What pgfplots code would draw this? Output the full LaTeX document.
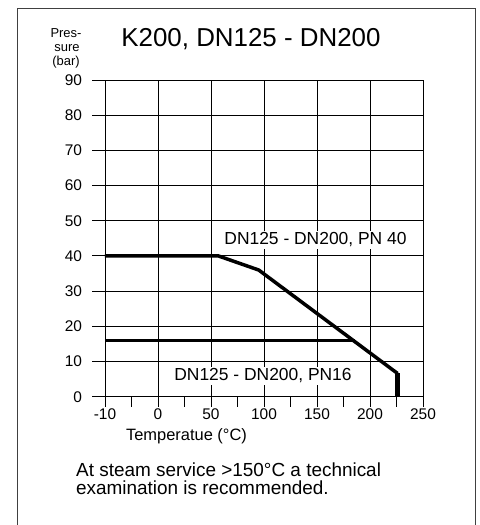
\documentclass[border=0pt]{standalone}
\usepackage{fontspec}
\setmainfont{Liberation Sans}
\usepackage{pgfplots}
\pgfplotsset{compat=1.18}
\begin{document}
\begin{tikzpicture}[x=1bp,y=1bp]
\path[use as bounding box] (0,0) rectangle (480,525);
\draw[black!75, line width=1bp] (17,0) -- (17,516) -- (475.5,516) -- (475.5,0);
\begin{axis}[
  at={(92bp,128.3bp)}, anchor=south west,
  scale only axis, width=331bp, height=316.7bp,
  x coord trafo/.code={\pgfmathparse{#1<0 ? (#1+10)/10 : 1+#1/50}},
  x coord inv trafo/.code={\pgfmathparse{#1<1 ? 10*#1-10 : 50*(#1-1)}},
  xmin=-12.45, xmax=250, ymin=0, ymax=90,
  axis x line=bottom, axis y line=left,
  x axis line style={-, black, line width=0.9bp},
  y axis line style={draw=none},
  xtick={-10,0,50,100,150,200,250},
  xticklabels={-10,0,50,100,150,200,250},
  minor xtick={-5,25,75,125,175,225},
  ytick={0,10,...,90},
  tick align=outside,
  major tick length=10bp, minor tick length=10bp,
  tick style={black, line width=0.9bp},
  ytick style={draw=none},
  grid=major,
  major grid style={black, line width=0.9bp},
  ticklabel style={font=\fontsize{15.5}{17}\selectfont},
  yticklabel style={xshift=3.5bp},
  xticklabel style={yshift=1bp},
  /pgf/number format/assume math mode=true,
  clip=false,
]
\addplot[black, line width=3.5bp, line join=round] coordinates {(-10,40) (57,40) (95,36) (226,6.6)};
\addplot[black, line width=4.5bp] coordinates {(226,6.6) (226,0)};
\addplot[black, line width=3.5bp] coordinates {(-10,16) (186,16)};
\end{axis}
\node[anchor=base, font=\fontsize{26}{28}\selectfont] at (251,478) {K200, DN125 - DN200};
\node[anchor=base, font=\fontsize{13}{14}\selectfont] at (66,487) {Pres-};
\node[anchor=base, font=\fontsize{13}{14}\selectfont] at (67,473) {sure};
\node[anchor=base, font=\fontsize{13}{14}\selectfont] at (66,459.5) {(bar)};
\node[anchor=base, fill=white, inner sep=1.5bp, font=\fontsize{17.5}{19}\selectfont] at (315.5,280) {DN125 - DN200, PN 40};
\node[anchor=base, fill=white, inner sep=1.5bp, font=\fontsize{17.5}{19}\selectfont] at (263,144) {DN125 - DN200, PN16};
\node[anchor=base, font=\fontsize{16.5}{18}\selectfont] at (186.5,84) {Temperatue (°C)};
\node[anchor=base west, inner sep=0pt, font=\fontsize{19}{21}\selectfont] at (76,48) {At steam service >150°C a technical};
\node[anchor=base west, inner sep=0pt, font=\fontsize{19}{21}\selectfont] at (76,30) {examination is recommended.};
\end{tikzpicture}
\end{document}
